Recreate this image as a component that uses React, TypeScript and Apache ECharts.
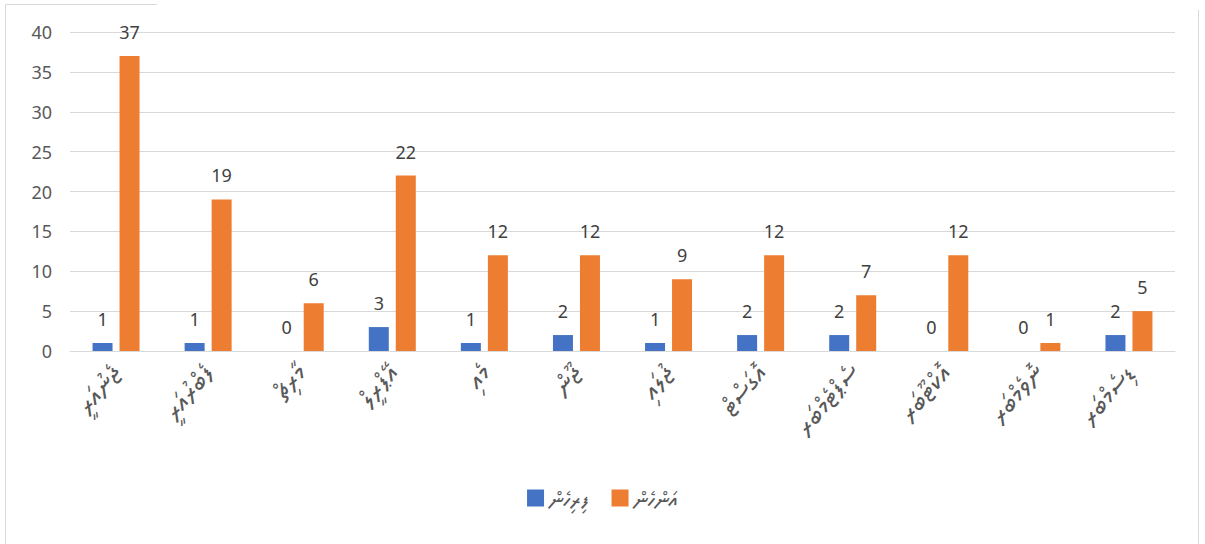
import React, { useEffect, useRef } from "react";
import * as echarts from "echarts";

const months = [
  "ޖެނުއަރީ",
  "ފެބްރުއަރީ",
  "މާރިޗް",
  "އޭޕްރީލް",
  "މެއި",
  "ޖޫން",
  "ޖުލައި",
  "އޮގަސްޓް",
  "ސެޕްޓެމްބަރ",
  "އޮކްޓޫބަރ",
  "ނޮވެމްބަރ",
  "ޑިސެމްބަރ",
];
const male = [1, 1, 0, 3, 1, 2, 1, 2, 2, 0, 0, 2];
const female = [37, 19, 6, 22, 12, 12, 9, 12, 7, 12, 1, 5];
const seriesNames = ["ފިރިހެން", "އަންހެން"];

const FONT = '"Noto Sans", "Noto Sans Thaana", "DejaVu Sans", sans-serif';

export default function App() {
  const ref = useRef<HTMLDivElement>(null);
  useEffect(() => {
    document.body.style.margin = "0";
    const chart = echarts.init(ref.current!, null, { renderer: "svg" });
    const label = {
      show: true,
      position: "top",
      distance: 15,
      color: "#404040",
      fontSize: 18,
      fontFamily: FONT,
    };
    chart.setOption({
      animation: false,
      backgroundColor: "#ffffff",
      textStyle: { fontFamily: FONT },
      grid: { left: 70, right: 30, top: 32, bottom: 193 },
      legend: {
        bottom: 30,
        left: "center",
        icon: "rect",
        itemWidth: 17,
        itemHeight: 17,
        itemGap: 22,
        textStyle: { fontSize: 22, color: "#595959", fontFamily: FONT },
        data: seriesNames,
      },
      xAxis: {
        type: "category",
        data: months,
        axisLine: { lineStyle: { color: "#D9D9D9" } },
        axisTick: { show: false },
        axisLabel: {
          rotate: 50,
          margin: 16,
          interval: 0,
          color: "#595959",
          fontSize: 27,
          fontFamily: FONT,
        },
      },
      yAxis: {
        type: "value",
        min: 0,
        max: 40,
        interval: 5,
        axisLine: { show: false },
        axisTick: { show: false },
        splitLine: { lineStyle: { color: "#D9D9D9", width: 1 } },
        axisLabel: { color: "#595959", fontSize: 18, margin: 18, fontFamily: FONT },
      },
      series: [
        {
          name: seriesNames[0],
          type: "bar",
          data: male,
          barWidth: 20,
          barGap: "35%",
          itemStyle: { color: "#4472C4" },
          label,
        },
        {
          name: seriesNames[1],
          type: "bar",
          data: female,
          barWidth: 20,
          itemStyle: { color: "#ED7D31" },
          label,
        },
      ],
      graphic: [
        {
          type: "line",
          shape: { x1: 5.5, y1: 4.5, x2: 157, y2: 4.5 },
          style: { stroke: "#D9D9D9", lineWidth: 1 },
        },
        {
          type: "line",
          shape: { x1: 5.5, y1: 4.5, x2: 5.5, y2: 544 },
          style: { stroke: "#D9D9D9", lineWidth: 1 },
        },
        {
          type: "line",
          shape: { x1: 1198.5, y1: 10, x2: 1198.5, y2: 544 },
          style: { stroke: "#D9D9D9", lineWidth: 1 },
        },
      ],
    });
    return () => chart.dispose();
  }, []);
  return (
    <div
      ref={ref}
      style={{ position: "absolute", left: 0, top: 0, width: 1205, height: 544 }}
    />
  );
}
